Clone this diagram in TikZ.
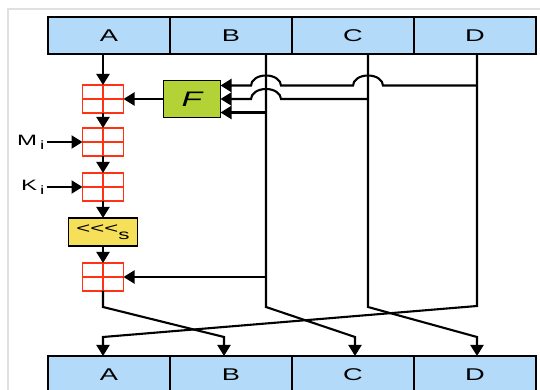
\documentclass[tikz,border=0pt]{standalone}
\usepackage{fontspec}
\setmainfont{Liberation Sans}[FakeStretch=1.6]
\usetikzlibrary{arrows.meta,positioning,calc}
\definecolor{cellblue}{HTML}{B3DBF9}
\definecolor{fgreen}{HTML}{B2D235}
\definecolor{rotyellow}{HTML}{F6E05A}
\definecolor{addred}{HTML}{FF3214}

\tikzset{
  cell/.style={draw, fill=cellblue, line width=1.8pt, minimum width=122pt, minimum height=37pt,
    inner sep=0pt, outer sep=0pt, font=\fontsize{17}{20}\selectfont},
  adder/.style={draw=addred, fill=white, line width=1.8pt, minimum width=41pt, minimum height=28pt,
    inner sep=0pt, outer sep=0pt,
    path picture={\draw[addred,line width=1.8pt]
      (path picture bounding box.north) -- (path picture bounding box.south)
      (path picture bounding box.west) -- (path picture bounding box.east);}},
  fbox/.style={draw, fill=fgreen, line width=1.6pt, minimum width=57pt, minimum height=37pt,
    inner sep=0pt, outer sep=0pt, font=\fontsize{21}{22}\selectfont\itshape},
  rotbox/.style={draw, fill=rotyellow, line width=1.6pt, minimum width=69pt, minimum height=28pt,
    inner sep=0pt, outer sep=0pt, font=\fontsize{15}{18}\selectfont},
  hop/.style={start angle=0, end angle=180, x radius=15pt, y radius=10pt}
}

\begin{document}
\begin{tikzpicture}[x=1pt, y=1pt, line width=2.1pt, >={Triangle[length=11pt,width=13pt]}]
\useasboundingbox (0,0) rectangle (540,390);
\draw[black!12, line width=1.5pt] (8,-2) -- (8,381) -- (542,381);

% registers in and out
\node[cell] (tA) at (109,354.5) {A};
\node[cell, right=0pt of tA] (tB) {B};
\node[cell, right=0pt of tB] (tC) {C};
\node[cell, right=0pt of tC] (tD) {D};
\node[cell] (bA) at (109,15.5) {A};
\node[cell, right=0pt of bA] (bB) {B};
\node[cell, right=0pt of bB] (bC) {C};
\node[cell, right=0pt of bC] (bD) {D};

% the A column
\node[adder] (add1) at (103,291) {};
\node[adder, below=15pt of add1] (add2) {};
\node[adder, below=17pt of add2] (add3) {};
\node[rotbox, below=17pt of add3] (rot)
  {<\kern0pt<\kern0pt<\raisebox{-6pt}{\fontsize{14}{14}\selectfont s}};
\node[adder, below=17pt of rot] (add4) {};
\node[fbox, right=40pt of add1] (F) {F};
\node[left=36pt of add2, inner sep=1pt, font=\fontsize{15}{16}\selectfont] (Mi)
  {M\hspace{3pt}\raisebox{-4pt}{\fontsize{12}{12}\selectfont i}};
\node[left=36pt of add3, inner sep=1pt, font=\fontsize{15}{16}\selectfont] (Ki)
  {K\hspace{3pt}\raisebox{-4pt}{\fontsize{12}{12}\selectfont i}};

% bends of the four lines
\coordinate (kA) at (103,83);
\coordinate (kB) at (266,83);
\coordinate (kC) at (368,83);
\coordinate (kD) at (477,84);
\coordinate (eA) at (103,53);
\coordinate (eB) at (224,53);
\coordinate (eC) at (355,53);
\coordinate (eD) at (477,53);
\path (F.east) ++(0,13.5) coordinate (fD) (F.east) coordinate (fC) (F.east) ++(0,-13.5) coordinate (fB);

\draw[->] (tA.south -| add1) -- (add1.north);
\draw[->] (add1) -- (add2);
\draw[->] (add2) -- (add3);
\draw[->] (add3) -- (rot);
\draw[->] (rot) -- (add4);
\draw[->] (F.west) -- (F.west -| add1.east);
\draw[->] (Mi) -- (add2.west);
\draw[->] (Ki) -- (add3.west);

% inputs of F
\draw[->] (kD |- fD) -- ($(kC |- fD)+(15,0)$) arc[hop] -- ($(kB |- fD)+(15,0)$) arc[hop] -- (fD);
\draw[->] (kC |- fC) -- ($(kB |- fC)+(15,0)$) arc[hop] -- (fC);
\draw[->] (kB |- fB) -- (fB);
\draw[->] (kB |- add4) -- (add4.east);

% rotation of the words
\draw[->] (add4) -- (kA) -- (eB) -- (bB.north -| eB);
\draw[->] (tB.south -| kB) -- (kB) -- (eC) -- (bC.north -| eC);
\draw[->] (tC.south -| kC) -- (kC) -- (eD) -- (bD.north -| eD);
\draw[->] (tD.south -| kD) -- (kD) -- (eA) -- (bA.north -| eA);
\end{tikzpicture}
\end{document}
